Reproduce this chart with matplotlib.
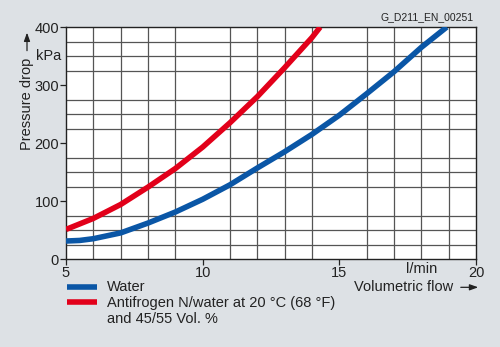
import matplotlib
matplotlib.use("Agg")
import matplotlib.pyplot as plt
import numpy as np

plt.rcParams["font.family"] = ["Liberation Sans", "DejaVu Sans"]

# volumetric flow (l/min) vs pressure drop (kPa)
water_flow = [5, 5.5, 6, 7, 8, 9, 10, 11, 12, 13, 14, 15, 16, 17, 18, 18.93]
water_dp = [31, 32, 35, 45, 62, 81, 103, 128, 157, 185, 215, 248, 285, 323, 365, 400]
anti_flow = [5, 6, 7, 8, 9, 10, 11, 12, 13, 14, 14.3]
anti_dp = [51, 70, 94, 124, 156, 193, 235, 280, 330, 382, 400]

x_ticks = [5, 10, 15, 20]
y_ticks = [0, 100, 200, 300, 400]
labels = ["Water", "Antifrogen N/water at 20 °C (68 °F)\nand 45/55 Vol. %"]

BG = "#dde1e5"
BLUE = "#0a56a6"
RED = "#e2001a"
INK = "#222222"
FS = 10.5
ARROW = dict(arrowstyle="-|>,head_length=0.5,head_width=0.18", color=INK, lw=0.9)

fig = plt.figure(figsize=(5, 3.47), dpi=100, facecolor=BG)
ax = fig.add_axes([0.132, 0.2536, 0.82, 0.6684])
ax.set_facecolor("white")

ax.set_xlim(5, 20)
ax.set_ylim(0, 400)
ax.set_xticks(np.arange(5, 21, 1), minor=True)
ax.set_yticks(np.arange(0, 401, 25), minor=True)
ax.grid(which="minor", color="#555555", lw=0.9)
ax.set_axisbelow(True)
ax.set_xticks(x_ticks)
ax.set_yticks(y_ticks)
ax.tick_params(which="minor", length=0)
ax.tick_params(which="major", length=4, width=0.9, color=INK, labelsize=FS,
               labelcolor=INK, pad=1)
for s in ax.spines.values():
    s.set_color(INK)
    s.set_linewidth(1)

ax.plot(water_flow, water_dp, color=BLUE, lw=4, solid_capstyle="butt", zorder=3)
ax.plot(anti_flow, anti_dp, color=RED, lw=4, solid_capstyle="butt", zorder=3)

# axis annotations
ax.text(-0.012, 350, "kPa", transform=ax.get_yaxis_transform(), ha="right", va="center",
        fontsize=FS, color=INK)
fig.text(0.054, 0.70, "Pressure drop", rotation=90, ha="center", va="center",
         fontsize=FS, color=INK)
ax.annotate("", xy=(0.054, 0.914), xytext=(0.054, 0.846), xycoords="figure fraction",
            arrowprops=ARROW)
ax.text(18.0, -18, "l/min", ha="center", va="center", fontsize=FS, color=INK)
fig.text(0.906, 0.172, "Volumetric flow", ha="right", va="center", fontsize=FS, color=INK)
ax.annotate("", xy=(0.962, 0.172), xytext=(0.916, 0.172), xycoords="figure fraction",
            arrowprops=ARROW)
fig.text(0.948, 0.936, "G_D211_EN_00251", ha="right", va="bottom", fontsize=7.5, color=INK)

# legend
for yy, c in [(0.172, BLUE), (0.130, RED)]:
    fig.add_artist(plt.Line2D([0.134, 0.194], [yy, yy], color=c, lw=4, solid_capstyle="butt"))
fig.text(0.214, 0.172, labels[0], ha="left", va="center", fontsize=FS, color=INK)
fig.text(0.214, 0.104, labels[1], ha="left", va="center", fontsize=FS, color=INK,
         linespacing=1.25)

fig.savefig("out.png", dpi=100, facecolor=BG)
